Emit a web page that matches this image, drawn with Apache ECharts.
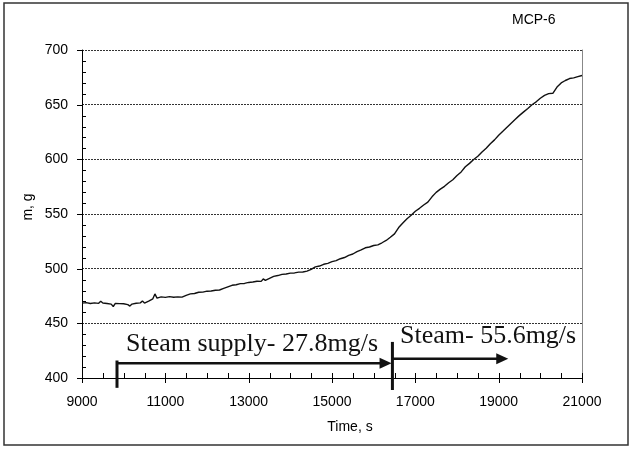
<!DOCTYPE html>
<html>
<head>
<meta charset="utf-8">
<script src="https://cdn.jsdelivr.net/npm/echarts@6/dist/echarts.min.js"></script>
<style>
html, body { margin: 0; padding: 0; background: #fff; }
#chart { width: 633px; height: 449px; }
</style>
</head>
<body>
<div id="chart"></div>
<script>
// Mass record of run MCP-6 (time in s, mass in g)
const timeSec = [
  9000, 9100, 9200, 9300, 9400, 9450, 9500, 9600, 9700, 9750,
  9800, 9900, 10000, 10100, 10150, 10200, 10300, 10400, 10450, 10500,
  10600, 10700, 10750, 10800, 10900, 11000, 11100, 11200, 11300, 11400,
  11500, 11600, 11700, 11800, 11900, 12000, 12100, 12200, 12300, 12400,
  12500, 12600, 12700, 12800, 12900, 13000, 13100, 13200, 13300, 13350,
  13400, 13500, 13600, 13700, 13800, 13900, 14000, 14100, 14200, 14300,
  14400, 14500, 14600, 14700, 14800, 14900, 15000, 15100, 15200, 15300,
  15400, 15500, 15600, 15700, 15800, 15900, 16000, 16100, 16200, 16300,
  16400, 16500, 16600, 16700, 16800, 16900, 17000, 17100, 17200, 17300,
  17400, 17500, 17600, 17700, 17800, 17900, 18000, 18100, 18200, 18300,
  18400, 18500, 18600, 18700, 18800, 18900, 19000, 19100, 19200, 19300,
  19400, 19500, 19600, 19700, 19800, 19900, 20000, 20100, 20200, 20300,
  20400, 20500, 20600, 20700, 20800, 20900, 21000
];
const massG = [
  468.5, 468.9, 468.1, 468.7, 468.3, 470.2, 468.6, 468.2, 467.6, 465.4,
  468.3, 468.0, 467.9, 467.1, 465.8, 467.6, 468.4, 468.7, 470.4, 468.5,
  470.3, 472.4, 476.9, 473.1, 474.2, 473.7, 474.4, 473.9, 474.2, 474.0,
  475.6, 476.9, 477.3, 478.4, 478.5, 479.4, 479.6, 480.3, 480.5, 482.0,
  483.4, 484.8, 485.3, 486.3, 486.5, 487.4, 487.8, 488.5, 488.4, 490.6,
  489.3, 491.1, 492.9, 493.7, 494.8, 495.1, 495.9, 496.1, 496.8, 496.9,
  497.7, 499.3, 501.6, 502.4, 504.0, 504.9, 506.4, 507.3, 509.1, 510.2,
  512.2, 513.4, 515.6, 517.1, 519.1, 519.8, 521.2, 521.8, 523.7, 525.8,
  528.7, 531.8, 537.6, 541.8, 545.7, 548.8, 552.5, 555.2, 558.2, 560.8,
  565.7, 569.8, 572.7, 575.3, 578.6, 581.3, 585.2, 588.5, 593.2, 596.3,
  599.8, 602.8, 606.7, 610.1, 614.3, 617.8, 622.0, 625.6, 629.3, 633.0,
  636.6, 640.2, 643.4, 646.5, 649.9, 652.6, 655.9, 658.5, 660.1, 660.4,
  666.1, 669.9, 672.1, 673.9, 674.5, 675.6, 676.7
];

// Axis ranges, tick values and minor tick spacing
const timeRange = [9000, 21000];
const timeStep = 2000;
const timeTicks = [9000, 11000, 13000, 15000, 17000, 19000, 21000];
const timeMinorStep = 500;
const massRange = [400, 700];
const massStep = 50;
const massTicks = [400, 450, 500, 550, 600, 650, 700];
const massMinorStep = 10;

// Steam supply phases: start/end time, arrow level, divider bar extent, label
const phaseStart = [9840, 16450];
const phaseEnd = [16430, 19230];
const arrowLevel = [413.6, 417.7];
const barTop = [416, 433];
const barBottom = [391, 389];
const labelTime = [10056, 16632];
const labelBaseline = [422.5, 429.9];
const phaseLabels = ['Steam supply- 27.8mg/s', 'Steam- 55.6mg/s'];

const chartTitle = 'MCP-6';
const xName = 'Time, s';
const yName = 'm, g';

const sans = '"Liberation Sans", Arial, sans-serif';
const serif = '"Liberation Serif", "Times New Roman", serif';
const ink = '#111';

const lineData = timeSec.map((t, i) => [t, massG[i]]);
const phaseData = phaseStart.map((t, i) => [
  t, phaseEnd[i], arrowLevel[i], barTop[i], barBottom[i], labelTime[i], labelBaseline[i]
]);

// Tick marks: [time, mass, kind]
// kind 0 = x major (crosses axis), 1 = y major (outside), 2 = x minor (inside), 3 = y minor (inside)
const tickData = [];
timeTicks.forEach(t => tickData.push([t, massRange[0], 0]));
massTicks.forEach(v => tickData.push([timeRange[0], v, 1]));
for (let t = timeRange[0]; t <= timeRange[1]; t += timeMinorStep) {
  if (timeTicks.indexOf(t) < 0) tickData.push([t, massRange[0], 2]);
}
for (let v = massRange[0]; v <= massRange[1]; v += massMinorStep) {
  if (massTicks.indexOf(v) < 0) tickData.push([timeRange[0], v, 3]);
}

const chart = echarts.init(document.getElementById('chart'), null, { renderer: 'canvas' });

const labelFont = 26;
const plain = v => String(v);
const crisp = c => Math.round(c) + 0.5;

const option = {
  animation: false,
  backgroundColor: '#fff',
  title: {
    text: chartTitle,
    left: 507,
    top: 8,
    textStyle: { fontFamily: sans, fontSize: 14, fontWeight: 'normal', color: '#000' }
  },
  grid: { left: 82, right: 51, top: 50, bottom: 71 },
  xAxis: {
    type: 'value', position: 'bottom',
    min: timeRange[0], max: timeRange[1], interval: timeStep,
    axisLine: { show: true, onZero: false, lineStyle: { color: '#000', width: 1 } },
    axisTick: { show: false },
    axisLabel: { color: '#000', fontFamily: sans, fontSize: 14, margin: 17, formatter: plain },
    splitLine: { show: false }
  },
  yAxis: [
    {
      type: 'value', position: 'left',
      min: massRange[0], max: massRange[1], interval: massStep,
      axisLine: { show: true, onZero: false, lineStyle: { color: '#000', width: 1 } },
      axisTick: { show: false },
      axisLabel: { color: '#000', fontFamily: sans, fontSize: 14, margin: 14, formatter: plain },
      splitLine: { show: true, lineStyle: { color: '#333', width: 1, type: [2, 1] } }
    },
    {
      // right frame of the plot area
      type: 'value', position: 'right',
      min: massRange[0], max: massRange[1], interval: massStep,
      axisLine: { show: true, onZero: false, lineStyle: { color: '#888', width: 1 } },
      axisTick: { show: false },
      axisLabel: { show: false },
      splitLine: { show: false }
    }
  ],
  series: [
    {
      type: 'line',
      xAxisIndex: 0, yAxisIndex: 0,
      data: lineData,
      showSymbol: false,
      lineStyle: { color: ink, width: 1.4 },
      z: 3
    },
    {
      // axis tick marks
      type: 'custom',
      xAxisIndex: 0, yAxisIndex: 0,
      data: tickData,
      encode: { x: 0, y: 1 },
      clip: false,
      silent: true,
      z: 2,
      renderItem: function (params, api) {
        const p = api.coord([api.value(0), api.value(1)]);
        const kind = api.value(2);
        let shape;
        if (kind === 0) {
          const x = crisp(p[0]);
          shape = { x1: x, y1: p[1] - 5, x2: x, y2: p[1] + 5 };
        } else if (kind === 2) {
          const x = crisp(p[0]);
          shape = { x1: x, y1: p[1] - 5, x2: x, y2: p[1] };
        } else if (kind === 1) {
          const y = crisp(p[1]);
          shape = { x1: p[0] - 5, y1: y, x2: p[0], y2: y };
        } else {
          const y = crisp(p[1]);
          shape = { x1: p[0], y1: y, x2: p[0] + 4, y2: y };
        }
        return { type: 'line', shape: shape, style: { stroke: '#000', lineWidth: 1 } };
      }
    },
    {
      type: 'custom',
      xAxisIndex: 0, yAxisIndex: 0,
      data: phaseData,
      encode: { x: [0, 1, 5], y: [2, 3, 4, 6] },
      clip: false,
      z: 4,
      renderItem: function (params, api) {
        const i = params.dataIndex;
        const s = api.coord([api.value(0), api.value(2)]);
        const e = api.coord([api.value(1), api.value(2)]);
        const bt = api.coord([api.value(0), api.value(3)]);
        const bb = api.coord([api.value(0), api.value(4)]);
        const lp = api.coord([api.value(5), api.value(6)]);
        const headLen = 12, headHalf = 5.5;
        return {
          type: 'group',
          children: [
            { type: 'line', shape: { x1: bt[0], y1: bt[1], x2: bb[0], y2: bb[1] },
              style: { stroke: ink, lineWidth: 3 } },
            { type: 'line', shape: { x1: s[0], y1: s[1], x2: e[0] - headLen + 2, y2: e[1] },
              style: { stroke: ink, lineWidth: 2.5 } },
            { type: 'polygon',
              shape: { points: [[e[0], e[1]], [e[0] - headLen, e[1] - headHalf], [e[0] - headLen, e[1] + headHalf]] },
              style: { fill: ink } },
            { type: 'text',
              style: { text: phaseLabels[i], x: lp[0], y: lp[1] - labelFont * 0.34,
                       font: labelFont + 'px ' + serif, fill: ink, align: 'left', verticalAlign: 'middle' } }
          ]
        };
      }
    }
  ],
  graphic: [
    { type: 'rect', silent: true, z: 0,
      shape: { x: 4, y: 3, width: 624, height: 442 },
      style: { fill: null, stroke: '#333', lineWidth: 1.5 } },
    { type: 'text', silent: true, x: 28, y: 207, rotation: Math.PI / 2,
      style: { text: yName, font: '14px ' + sans, fill: '#000', align: 'center', verticalAlign: 'middle' } },
    { type: 'text', silent: true, x: 350, y: 427,
      style: { text: xName, font: '14px ' + sans, fill: '#000', align: 'center', verticalAlign: 'middle' } }
  ]
};

chart.setOption(option);
</script>
</body>
</html>
